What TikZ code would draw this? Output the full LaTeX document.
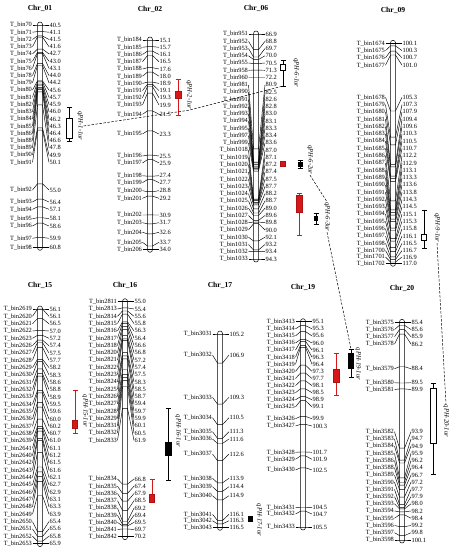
\documentclass[tikz,border=0pt]{standalone}
\usepackage{fontspec}
\setmainfont{Liberation Serif}
\usetikzlibrary{arrows.meta}
\definecolor{qtlred}{RGB}{214,24,24}
\tikzset{
  chrtitle/.style={font=\fontsize{7.6}{9}\selectfont\bfseries, inner sep=0.5pt},
  chrbar/.style={draw, line width=0.5pt, rounded corners=2.5pt, fill=white},
  binlbl/.style={font=\fontsize{6.4}{6.4}\selectfont, inner sep=0.4pt, anchor=east},
  cmlbl/.style={font=\fontsize{6.4}{6.4}\selectfont, inner sep=0.4pt, anchor=west},
  tickln/.style={line width=0.45pt},
  whisk/.style={{Bar[width=5pt]}-{Bar[width=5pt]}, line width=0.5pt},
  redwhisk/.style={whisk, draw=qtlred},
  qwhite/.style={draw, fill=white, line width=0.5pt},
  qblack/.style={draw, fill=black},
  qred/.style={draw=qtlred!80!black, fill=qtlred},
  qlabel/.style={font=\fontsize{6.6}{7}\selectfont\itshape, rotate=-90, inner sep=0.5pt},
  link/.style={dash pattern=on 2.5pt off 1.5pt, line width=0.5pt}
}
% #1 chr, #2 x, #3 title y, #4 first y, #5 last y, #6 min cM, #7 max cM, #8 bin/cM/label y
\newcommand{\chrom}[8]{%
  \node[chrtitle] (c#1) at (#2,#3) {Chr\_#1};
  \draw[chrbar] (#2-2.5,#4-3) rectangle (#2+2.5,#5+3);
  \foreach \bnum/\cm/\ylab in {#8}{%
    \pgfmathsetmacro{\ytick}{#4+(\cm-#6)/(#7-#6)*(#5-#4)}
    \node[binlbl] (L\bnum) at (#2-7.5,\ylab) {T\_bin\bnum};
    \node[cmlbl] (P\bnum) at (#2+9,\ylab) {\cm};
    \draw[tickln] (L\bnum.east) -- (#2-2.5,\ytick) -- (#2+2.5,\ytick) -- (P\bnum.west);
  }%
}
\begin{document}
\begin{tikzpicture}[x=1pt,y=-1pt]
\useasboundingbox (0,0) rectangle (456,551);

% top row
\chrom{01}{40}{8}{25}{247.3}{40.5}{60.8}{70/40.5/25, 71/41.1/32.2, 72/41.5/39.5, 73/41.6/46.7, 74/42.7/53.9, 75/43.0/61.2, 76/43.1/68.4, 78/44.0/75.6, 79/44.2/82.8, 80/45.6/90.1, 81/45.7/97.3, 82/45.9/104.5, 83/46.0/111.8, 84/46.2/119, 85/46.3/126.2, 86/46.4/133.5, 88/46.6/140.7, 89/47.8/147.9, 90/49.9/155.1, 91/50.1/162.4, 92/55.0/190, 93/56.4/202, 94/57.1/209.3, 95/58.1/218.7, 96/58.6/226, 97/59.9/238.3, 98/60.8/247.3}

\chrom{02}{150}{9}{40}{249.3}{15.1}{34.0}{184/15.1/40, 185/15.7/47.3, 186/16.1/54.5, 187/16.5/61.7, 188/17.6/69, 189/18.0/76.2, 190/18.9/83.4, 191/19.1/90.6, 192/19.3/97.8, 193/19.9/105, 194/21.5/114.3, 195/23.3/134, 196/25.5/156, 197/25.9/163, 198/27.4/175.7, 199/27.7/182.7, 200/28.8/190.7, 201/29.2/198.3, 202/30.9/215, 203/31.7/222.7, 204/32.6/232.3, 205/33.7/242.3, 206/34.0/249.3}

\chrom{06}{256}{8}{34}{259}{66.9}{94.3}{951/66.9/34, 952/68.8/41.3, 953/69.7/48.5, 954/70.0/55.8, 955/70.5/63, 958/71.3/70.3, 960/72.2/77.5, 981/80.9/84.8, 990/82.5/92.1, 991/82.6/99.3, 992/82.8/106.6, 993/83.0/113.8, 994/83.1/121.1, 995/83.3/128.4, 997/83.4/135.6, 999/83.6/142.9, 1018/87.0/150.1, 1019/87.1/157.4, 1020/87.2/164.6, 1021/87.4/171.9, 1022/87.5/179.2, 1023/87.7/186.4, 1024/88.2/193.7, 1025/88.7/200.9, 1026/89.0/208.2, 1027/89.6/215.5, 1028/89.8/222.7, 1029/90.0/230, 1030/92.1/237.2, 1031/93.2/244.5, 1032/93.4/251.7, 1033/94.3/259}

\chrom{09}{393}{10}{43.3}{263.3}{100.1}{117.0}{1674/100.1/43.3, 1675/100.3/50.6, 1676/100.7/57.9, 1677/101.0/65.2, 1678/105.3/97.3, 1679/107.3/104.6, 1680/107.9/111.9, 1681/109.4/119.2, 1682/109.6/126.5, 1683/110.3/133.8, 1684/110.5/141.1, 1685/110.7/148.4, 1686/112.2/155.7, 1687/112.9/163, 1688/113.1/170.3, 1689/113.3/177.6, 1690/113.6/184.9, 1691/113.8/192.2, 1692/114.3/199.5, 1693/114.5/206.8, 1694/115.1/214.1, 1695/115.3/221.4, 1696/115.8/228.7, 1697/116.1/236, 1698/116.5/243.3, 1700/116.7/250.6, 1701/116.9/257, 1702/117.0/263.3}

% bottom row
\chrom{15}{40}{285}{309}{543.6}{56.1}{65.9}{2619/56.1/309, 2620/56.1/316.3, 2621/56.5/323.7, 2622/57.0/331, 2623/57.2/338.3, 2626/57.4/345.7, 2627/57.5/353, 2628/57.7/360.3, 2629/58.2/367.6, 2630/58.3/375, 2631/58.6/382.3, 2632/58.8/389.6, 2633/58.9/397, 2634/59.5/404.3, 2635/59.6/411.6, 2636/60.0/419, 2637/60.2/426.3, 2638/60.7/433.6, 2639/61.0/440.9, 2641/61.1/448.3, 2640/61.2/455.6, 2642/61.5/462.9, 2643/61.6/470.3, 2644/62.1/477.6, 2645/62.7/484.9, 2646/62.9/492.3, 2647/63.1/499.6, 2648/63.3/506.9, 2649/63.9/514.2, 2650/65.4/521.6, 2651/65.6/528.9, 2652/65.8/536.2, 2653/65.9/543.6}

\chrom{16}{125}{285}{301.7}{536.7}{55.0}{70.2}{2811/55.0/301.7, 2813/55.4/309, 2814/55.6/316.3, 2815/55.8/323.6, 2816/56.3/330.9, 2817/56.4/338.2, 2818/56.6/345.5, 2820/56.8/352.8, 2821/57.2/360.1, 2822/57.4/367.4, 2823/57.5/374.7, 2824/58.3/382, 2825/58.5/389.3, 2826/58.7/396.6, 2827/59.4/403.9, 2828/59.7/411.2, 2829/59.9/418.5, 2831/60.1/425.8, 2832/60.5/433.1, 2833/61.9/440.4, 2834/66.8/479, 2835/67.4/486.2, 2836/67.9/493.5, 2837/68.5/500.7, 2838/69.2/508, 2839/69.4/515.2, 2840/69.5/522.4, 2841/69.7/529.5, 2842/70.2/536.7}

\chrom{17}{220}{285}{334}{527.3}{105.2}{116.5}{3031/105.2/334, 3032/106.9/355, 3033/109.3/397.3, 3034/110.5/417.7, 3035/111.3/431.7, 3036/111.6/439, 3037/112.6/454, 3038/113.9/478.3, 3039/114.4/486.7, 3040/114.9/495.7, 3041/116.1/514.3, 3042/116.3/520.7, 3043/116.5/527.3}

\chrom{19}{303}{287}{321.7}{527}{95.1}{105.5}{3413/95.1/321.7, 3414/95.3/328.8, 3415/95.6/335.9, 3416/96.0/343, 3417/96.1/350.1, 3418/96.3/357.2, 3419/96.4/364.3, 3420/97.3/371.4, 3421/97.7/378.5, 3422/98.1/385.6, 3423/98.5/392.7, 3424/98.9/399.8, 3425/99.1/406.9, 3426/99.9/418.7, 3427/100.3/426, 3428/101.7/452.3, 3429/101.9/459.3, 3430/102.5/470, 3431/104.5/507.3, 3432/104.7/514, 3433/105.5/527}

\chrom{20}{402}{288}{322.3}{540}{85.4}{100.1}{3575/85.4/322.3, 3576/85.6/329.5, 3577/85.9/336.7, 3578/86.2/344, 3579/88.4/368.7, 3580/89.5/382.7, 3581/89.9/389.5, 3582/93.9/431.7, 3583/94.7/438.9, 3584/94.9/446.1, 3585/95.9/453.3, 3586/96.2/460.5, 3588/96.4/467.7, 3589/96.7/475, 3590/97.2/482.2, 3591/97.7/489.4, 3592/97.9/496.6, 3593/98.0/503.8, 3594/98.2/511, 3595/98.4/518.2, 3596/99.2/525.5, 3597/99.8/532.7, 3598/100.1/540}

% QTL intervals
\coordinate (w11t) at (69,107);
\coordinate (w11b) at (69,141);
\draw[whisk] (w11t) -- (w11b);
\draw[qwhite] (66,118) rectangle (72,138);
\node[qlabel] (q11) at (80,126) {qPH-1-1ur};

\draw[redwhisk] (178,79) -- (178,115);
\draw[qred] (175,91.5) rectangle (181,98);
\node[qlabel] (q21) at (189,95) {qPH-2-1ur};

\coordinate (w61t) at (283,60);
\coordinate (w61b) at (283,86);
\draw[whisk] (w61t) -- (w61b);
\draw[qwhite] (280.5,64.5) rectangle (285.5,70);
\node[qlabel] (q61) at (296,73) {qPH-6-1ur};
\draw[qred] (280.5,161.5) rectangle (285.5,166.5);
\draw[whisk] (300,160) -- (300,168);
\draw[qblack] (298,162) rectangle (302,166);
\node[qlabel] (q62) at (310,160) {qPH-6-2ur};
\draw[redwhisk] (299,193) -- (299,235);
\draw[qred] (296,195) rectangle (302,212);
\draw[whisk] (316,213) -- (316,224);
\draw[qblack] (314.5,216.5) rectangle (317.5,220.5);
\node[qlabel] (q63) at (327,217) {qPH-6-3ur};

\draw[whisk] (424,210) -- (424,248);
\draw[qwhite] (421.5,234) rectangle (426.5,240);
\node[qlabel] (q91) at (437,228) {qPH-9-1ur};

\draw[redwhisk] (75,390) -- (75,433);
\draw[qred] (72.5,420) rectangle (77.5,428);
\node[qlabel] (q151) at (85,411) {qPH-15-1ur};

\draw[whisk] (168,408) -- (168,480);
\draw[qblack] (165,442) rectangle (171,455);
\node[qlabel] (q161) at (178,431) {qPH-16-1ur};
\draw[redwhisk] (152,479) -- (152,502);
\draw[qred] (149.5,494) rectangle (154.5,502);

\draw[qblack] (248,516.5) rectangle (252,521);
\node[qlabel] (q171) at (259,520) {qPH-17-1ur};

\draw[redwhisk] (336,353) -- (336,395);
\draw[qred] (333,369) rectangle (339,382);
\coordinate (w191t) at (351,349);
\coordinate (w191b) at (351,377);
\draw[whisk] (w191t) -- (w191b);
\draw[qblack] (348.5,353) rectangle (353.5,368);
\node[qlabel] (q191) at (358,364) {qPH-19-1ur};

\draw[whisk] (433,383) -- (433,474);
\draw[qwhite] (430,388) rectangle (436,443);
\node[qlabel] (q201) at (446,421) {qPH-20-1ur};

% links between QTLs
\draw[link] (q11.north) -- (q21.east) -- (w61b);
\draw[link] (q62.east) -- (q63.west);
\draw[link] (q63.east) -- (w191t);
\draw[link] (q91.east) -- (q201.west);
\end{tikzpicture}
\end{document}
